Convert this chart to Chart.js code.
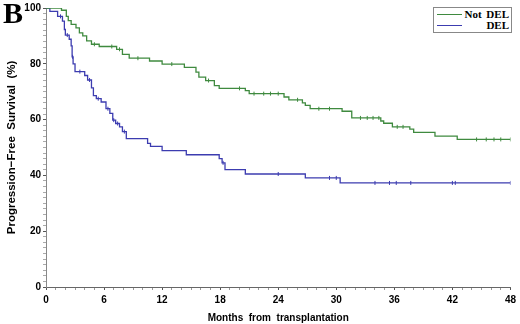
<!DOCTYPE html>
<html lang="en">
<head>
    <meta charset="UTF-8">
    <title>Progression-Free Survival</title>
    <script src="https://cdn.jsdelivr.net/npm/chart.js"></script>
    <style>
        body { margin: 0; background: #fff; }
        .wrap { position: relative; width: 520px; height: 324px; }
        .panel { position: absolute; left: 3px; top: -4px; font: bold 30px "Liberation Serif", serif; }
        .legend { position: absolute; left: 433px; top: 7px; width: 79px; height: 26px; border: 1px solid #888;
                  box-sizing: border-box; background: #fff; padding: 1px 2px 0 3px;
                  font: bold 11px "Liberation Serif", serif; word-spacing: 2px; }
        .legend .row { display: flex; align-items: center; height: 11px; }
        .legend .swatch { width: 25px; height: 0; border-top: 1.5px solid; }
        .legend .txt { margin-left: auto; line-height: 11px; }
    </style>
</head>
<body>
<div class="wrap">
    <canvas id="kmChart" width="520" height="324"></canvas>
    <div class="panel">B</div>
    <div class="legend" id="legend"></div>
</div>
<script>
    // Kaplan-Meier steps (months, % surviving after the event)
    const notDelTimes = [0, 1.6, 2.1, 2.3, 2.6, 3.1, 3.45, 3.8, 4.2, 4.7, 5.5, 7.3, 7.9, 8.6, 10.7, 12.0, 14.3, 15.5, 15.8, 16.5, 17.4, 17.9, 20.6, 21.0, 24.6, 25.1, 26.5, 26.8, 27.3, 30.6, 31.6, 34.6, 34.9, 35.8, 37.6, 38.0, 40.2, 42.5, 48];
    const notDelSurv  = [100, 99.2, 97, 95.5, 94.1, 92.9, 91.1, 90, 88.2, 87, 86.2, 85.2, 83.4, 82, 81, 79.9, 78.7, 77, 75.2, 74, 72.2, 71.2, 70.4, 69.3, 68.1, 67.1, 66.0, 65.1, 63.9, 63.0, 60.6, 59.5, 58.7, 57.4, 56.6, 55.4, 54.1, 52.9, 52.9];
    const notDelCensored = [5.0, 6.8, 7.6, 9.5, 13.0, 16.8, 20.0, 21.5, 22.5, 23.2, 24.0, 26.0, 28.2, 29.3, 32.5, 33.2, 33.8, 34.4, 36.3, 36.9, 44.5, 45.5, 46.3, 47.0, 48];

    const delTimes = [0, 0.4, 1.2, 1.7, 1.9, 2.0, 2.4, 2.6, 2.7, 2.8, 3.0, 4.0, 4.3, 4.7, 4.9, 5.2, 5.7, 6.2, 6.6, 6.9, 7.2, 7.6, 7.9, 8.3, 10.5, 10.8, 12.0, 14.5, 17.9, 18.2, 18.5, 20.6, 26.8, 30.4, 48];
    const delSurv  = [100, 98.8, 97, 95.3, 92.3, 90.3, 88.8, 86.4, 82.5, 80, 77.2, 75.8, 74.2, 71.4, 68.6, 67.5, 66.3, 63.9, 62.2, 59.8, 58.6, 57.4, 55.7, 53.2, 51.5, 50.4, 48.9, 47.4, 46, 44.5, 42.1, 40.5, 39.1, 37.3, 37.3];
    const delCensored = [1.5, 2.2, 2.75, 3.5, 4.5, 5.4, 6.4, 7.0, 7.4, 8.1, 18.3, 24.0, 29.3, 30.0, 34.0, 35.5, 36.2, 37.7, 42.0, 42.3, 48];

    const xTicks = [0, 6, 12, 18, 24, 30, 36, 42, 48];
    const yTicks = [0, 20, 40, 60, 80, 100];

    const greenColor = '#3f8a3f';
    const blueColor = '#3c3cb0';

    function steps(times, surv) {
        return times.map((t, i) => ({ x: t, y: surv[i] }));
    }
    function survAt(times, surv, t) {
        let s = surv[0];
        for (let i = 0; i < times.length; i++) {
            if (times[i] <= t) s = surv[i];
        }
        return s;
    }
    function marks(cens, times, surv) {
        return cens.map(t => ({ x: t, y: survAt(times, surv, t) }));
    }

    const curve = (label, data, color) => ({
        label: label, data: data, borderColor: color, borderWidth: 1.3,
        stepped: true, pointRadius: 0, fill: false
    });
    const ticksSet = (data, color) => ({
        label: '', data: data, showLine: false, borderColor: color, borderWidth: 1,
        pointStyle: 'line', rotation: 90, pointRadius: 2, pointHoverRadius: 2
    });

    const axisFont = { family: 'Liberation Sans', size: 10, weight: 'bold' };

    const kmChart = new Chart(document.getElementById('kmChart'), {
        type: 'line',
        data: {
            datasets: [
                curve('Not DEL', steps(notDelTimes, notDelSurv), greenColor),
                curve('DEL', steps(delTimes, delSurv), blueColor),
                ticksSet(marks(notDelCensored, notDelTimes, notDelSurv), greenColor),
                ticksSet(marks(delCensored, delTimes, delSurv), blueColor)
            ]
        },
        options: {
            responsive: false,
            animation: false,
            devicePixelRatio: 1,
            layout: { padding: { top: 5, right: 8, left: 0, bottom: 0 } },
            plugins: { legend: { display: false }, tooltip: { enabled: false } },
            scales: {
                x: {
                    type: 'linear', min: 0, max: 48,
                    afterFit: s => { s.height = 37; },
                    ticks: {
                        stepSize: 1, autoSkip: false, maxRotation: 0, padding: 4,
                        color: '#000', font: axisFont,
                        callback: v => xTicks.includes(v) ? v : ''
                    },
                    grid: {
                        drawOnChartArea: false, tickLength: 3,
                        tickColor: ctx => xTicks.includes(ctx.tick.value) ? '#555' : '#999'
                    },
                    border: { color: '#666', width: 1 },
                    title: {
                        display: true, text: 'Months  from  transplantation', color: '#000',
                        font: axisFont, padding: { top: 0, bottom: 0 }
                    }
                },
                y: {
                    min: 0, max: 100,
                    afterFit: s => { s.width = 46; },
                    ticks: {
                        stepSize: 2, autoSkip: false, padding: 2,
                        color: '#000', font: axisFont,
                        callback: v => yTicks.includes(v) ? v : ''
                    },
                    grid: {
                        drawOnChartArea: false, tickLength: 3,
                        tickColor: ctx => yTicks.includes(ctx.tick.value) ? '#555' : '#aaa'
                    },
                    border: { color: '#888', width: 1 },
                    title: {
                        display: true, text: 'Progression\u2212Free  Survival  (%)', color: '#000',
                        font: { family: 'Liberation Sans', size: 11.5, weight: 'bold' },
                        padding: { top: 5, bottom: 0 }
                    }
                }
            }
        }
    });

    // legend box, drawn from the two curve datasets
    const legend = document.getElementById('legend');
    kmChart.data.datasets.slice(0, 2).forEach(ds => {
        const row = document.createElement('div');
        row.className = 'row';
        const line = document.createElement('div');
        line.className = 'swatch';
        line.style.borderColor = ds.borderColor;
        const txt = document.createElement('div');
        txt.className = 'txt';
        txt.textContent = ds.label;
        row.appendChild(line);
        row.appendChild(txt);
        legend.appendChild(row);
    });
</script>
</body>
</html>
